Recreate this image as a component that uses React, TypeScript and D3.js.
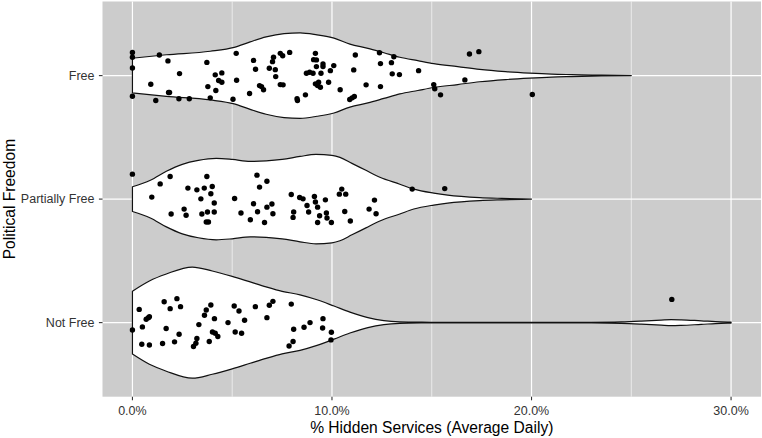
import * as d3 from 'd3';

// categories, top to bottom
const groups = ["Free", "Partially Free", "Not Free"];
const xTicks = [0, 10, 20, 30];
const xMinor = [5, 15, 25];

// violin outlines: [% hidden services, relative density]
const freeDensity: [number, number][] = [
  [0, .313], [1.7, .375], [3.9, .438], [5.1, .509], [5.9, .607], [6.7, .696], [7.6, .755],
  [8.4, .768], [9.25, .732], [10.1, .673], [10.9, .566], [11.8, .491], [12.6, .411],
  [13.4, .330], [14.3, .268], [15.1, .214], [16.3, .161], [17.4, .111], [18.7, .071],
  [19.9, .045], [21, .027], [22, .018], [23.5, .007], [25, 0]
];
const partialDensity: [number, number][] = [
  [0, .223], [0.9, .339], [1.7, .5], [2.5, .625], [3.3, .696], [4.2, .732], [5.0, .714],
  [5.9, .679], [6.7, .688], [7.5, .714], [8.4, .768], [9.2, .804], [10.0, .786], [10.4, .75],
  [11.0, .643], [11.7, .518], [12.4, .393], [13.4, .268], [14.1, .179], [15.1, .107],
  [15.8, .071], [17.4, .027], [18.5, .013], [20, 0]
];
const notFreeDensity: [number, number][] = [
  [0, .566], [0.85, .75], [1.7, .875], [3.0, 1], [4.0, .929], [5.0, .832], [5.9, .732],
  [6.7, .643], [7.5, .563], [8.4, .5], [9.25, .411], [10.1, .298], [10.9, .188], [11.8, .089],
  [12.6, .036], [13.4, .014], [14.5, .007], [16, .0045], [20, .0036], [23, .0054],
  [24.5, .0125], [25.5, .027], [26.5, .046], [27, .054], [27.5, .05], [28.5, .032],
  [29.5, .014], [30, .009]
];

// jittered observations: [% hidden services, vertical jitter (category units, up +)]
const freePoints: [number, number][] = [
  [0, .188], [0, .148], [0, .062], [0, -.167],
  [1.35, .167], [1.78, .119], [2.36, .016], [0.92, -.070], [1.81, -.137], [1.86, -.137],
  [1.17, -.202], [2.33, -.188], [2.85, -.188],
  [3.73, .107], [4.15, .006], [4.48, .022], [4.32, -.040], [4.48, -.054], [3.78, -.089],
  [4.18, -.121], [3.90, -.180], [5.04, -.191], [5.22, -.038], [5.20, .180],
  [6.07, .123], [6.17, .051], [5.87, -.145], [6.37, -.081], [6.57, -.115], [6.47, -.089],
  [7.07, .148], [7.02, .113], [6.86, .059], [7.16, .048], [7.18, -.008], [7.41, .180],
  [7.53, .161], [7.88, .188], [7.41, -.073], [7.55, -.075],
  [8.25, -.188], [8.27, -.202], [8.67, -.156], [8.72, .019], [8.88, .027], [9.05, .019],
  [9.17, .180], [9.08, .129], [9.22, .127], [9.22, .073], [9.55, .094], [9.55, .073],
  [9.45, .019], [9.92, .040], [10.09, .081], [9.17, -.067], [9.28, -.081], [9.42, -.094],
  [9.33, -.054], [9.83, -.054], [10.41, -.115],
  [11.17, .167], [11.09, .046], [11.71, -.075], [10.89, -.194], [11.01, -.180], [11.12, -.169],
  [12.38, .185], [12.43, .097], [12.43, -.089], [12.98, .105], [13.10, .153], [13.02, .014],
  [13.38, .008], [14.34, .040], [15.10, -.073], [15.15, -.107], [15.44, -.156],
  [16.89, .175], [17.36, .194], [16.66, -.035], [20.04, -.153]
];
const partialPoints: [number, number][] = [
  [0, .202], [0.97, .016], [1.39, .123], [1.89, .183], [1.94, -.121], [2.59, -.081],
  [2.69, -.131], [2.78, .089], [3.23, .075], [3.43, .002], [3.48, -.121], [3.60, .089],
  [3.73, .183], [3.76, -.105], [3.70, -.185], [3.81, -.185], [3.93, .043], [4.00, .102],
  [4.10, -.032], [4.10, -.105],
  [5.12, .005], [5.44, -.113], [5.91, -.167], [6.07, -.038], [6.24, .194], [6.27, -.102],
  [6.37, .097], [6.62, -.189], [6.74, .145], [6.74, -.065], [6.99, -.040], [7.04, -.119],
  [7.96, .037], [8.08, -.105], [8.05, -.148], [8.38, .013], [8.55, .002], [8.75, -.052],
  [8.83, -.105], [9.12, .021], [9.17, -.024], [9.28, -.065], [9.38, -.135], [9.28, -.189],
  [9.67, -.006], [9.72, -.113], [9.75, -.153], [9.97, -.189], [10.37, .040], [10.49, .081],
  [10.69, .040], [10.64, -.100], [10.92, -.177], [11.86, -.081], [12.13, -.008],
  [12.21, -.119], [14.02, .081], [15.65, .085]
];
const notFreePoints: [number, number][] = [
  [0, -.060], [0.34, .107], [0.50, -.035], [0.47, -.175], [0.85, -.181], [0.69, .027],
  [0.80, .040], [0.85, .048], [1.51, -.169], [1.59, .169], [1.69, -.048], [1.89, .113],
  [2.11, -.156], [2.23, .194], [2.34, -.094], [2.41, .129], [3.06, -.194], [3.18, -.167],
  [3.23, -.129], [3.33, -.016], [3.61, .059], [3.70, .102], [3.93, .142], [3.85, -.153],
  [4.11, .032], [4.01, -.076], [4.15, -.086], [4.28, -.113], [4.79, 0], [5.10, .134],
  [5.34, .094], [5.15, -.076], [5.47, -.086], [5.62, .019], [6.16, .129], [6.74, .040],
  [6.86, .140], [7.04, .172], [7.96, .150], [8.08, -.054], [8.05, -.153], [7.85, -.189],
  [8.60, -.038], [8.90, 0], [9.55, .032], [9.53, -.044], [9.97, -.078], [9.95, -.140],
  [27.03, .188]
];

const densities = [freeDensity, partialDensity, notFreeDensity];
const points = [freePoints, partialPoints, notFreePoints];

const width = 762;
const height = 438;
const margin = { top: 1.5, right: 1, bottom: 41.3, left: 102.5 };
const font = '"Liberation Sans", Arial, Helvetica, sans-serif';

export default function App() {
  const x = d3.scaleLinear()
    .domain([-1.5, 31.5])
    .range([margin.left, width - margin.right]);

  const y = d3.scalePoint<string>()
    .domain(groups)
    .range([margin.top, height - margin.bottom])
    .padding(0.6);

  const step = y.step();
  const w = d3.scaleLinear().domain([0, 1]).range([0, 0.45 * step]);

  const panelBottom = height - margin.bottom;

  return (
    <svg width={width} height={height}
      style={{ position: 'absolute', left: 0, top: 0, display: 'block', background: '#fff' }}>
      <rect x={margin.left} y={margin.top} width={width - margin.right - margin.left}
        height={panelBottom - margin.top} fill="#CCCCCC" />

      {/* grid */}
      {xMinor.map(v => (
        <line key={'mn' + v} x1={x(v)} x2={x(v)} y1={margin.top} y2={panelBottom}
          stroke="#fff" strokeWidth={0.6} />
      ))}
      {xTicks.map(v => (
        <line key={'mj' + v} x1={x(v)} x2={x(v)} y1={margin.top} y2={panelBottom}
          stroke="#fff" strokeWidth={1.2} />
      ))}
      {groups.map(g => (
        <line key={'gy' + g} x1={margin.left} x2={width - margin.right} y1={y(g)} y2={y(g)}
          stroke="#fff" strokeWidth={1.2} />
      ))}

      {/* violins */}
      {groups.map((g, i) => {
        const yc = y(g)!;
        const area = d3.area<[number, number]>()
          .x(d => x(d[0]))
          .y0(d => yc - w(d[1]))
          .y1(d => yc + w(d[1]))
          .curve(d3.curveMonotoneX);
        return (
          <path key={'v' + g} d={area(densities[i]) || ''} fill="#fff"
            stroke="#111" strokeWidth={1.2} strokeLinejoin="round" />
        );
      })}

      {/* jittered points */}
      {groups.map((g, i) => (
        <g key={'p' + g} fill="#000">
          {points[i].map((d, j) => (
            <circle key={j} cx={x(d[0])} cy={y(g)! - d[1] * step} r={2.7} />
          ))}
        </g>
      ))}

      {/* x axis */}
      {xTicks.map(v => (
        <g key={'xt' + v}>
          <line x1={x(v)} x2={x(v)} y1={panelBottom} y2={panelBottom + 3.6}
            stroke="#333" strokeWidth={1.1} />
          <text x={x(v)} y={415} textAnchor="middle" fontFamily={font} fontSize={12.5}
            fill="#333">{v.toFixed(1) + '%'}</text>
        </g>
      ))}
      <text x={(margin.left + width - margin.right) / 2} y={433} textAnchor="middle"
        fontFamily={font} fontSize={15.6} fill="#000">% Hidden Services (Average Daily)</text>

      {/* y axis */}
      {groups.map(g => (
        <g key={'yt' + g}>
          <line x1={margin.left - 3.6} x2={margin.left} y1={y(g)} y2={y(g)}
            stroke="#333" strokeWidth={1.1} />
          <text x={94.5} y={y(g)} dy="0.35em" textAnchor="end" fontFamily={font}
            fontSize={12.5} fill="#333">{g}</text>
        </g>
      ))}
      <text transform={`translate(15,${(margin.top + panelBottom) / 2}) rotate(-90)`}
        textAnchor="middle" fontFamily={font} fontSize={15.6} fill="#000">Political Freedom</text>
    </svg>
  );
}
